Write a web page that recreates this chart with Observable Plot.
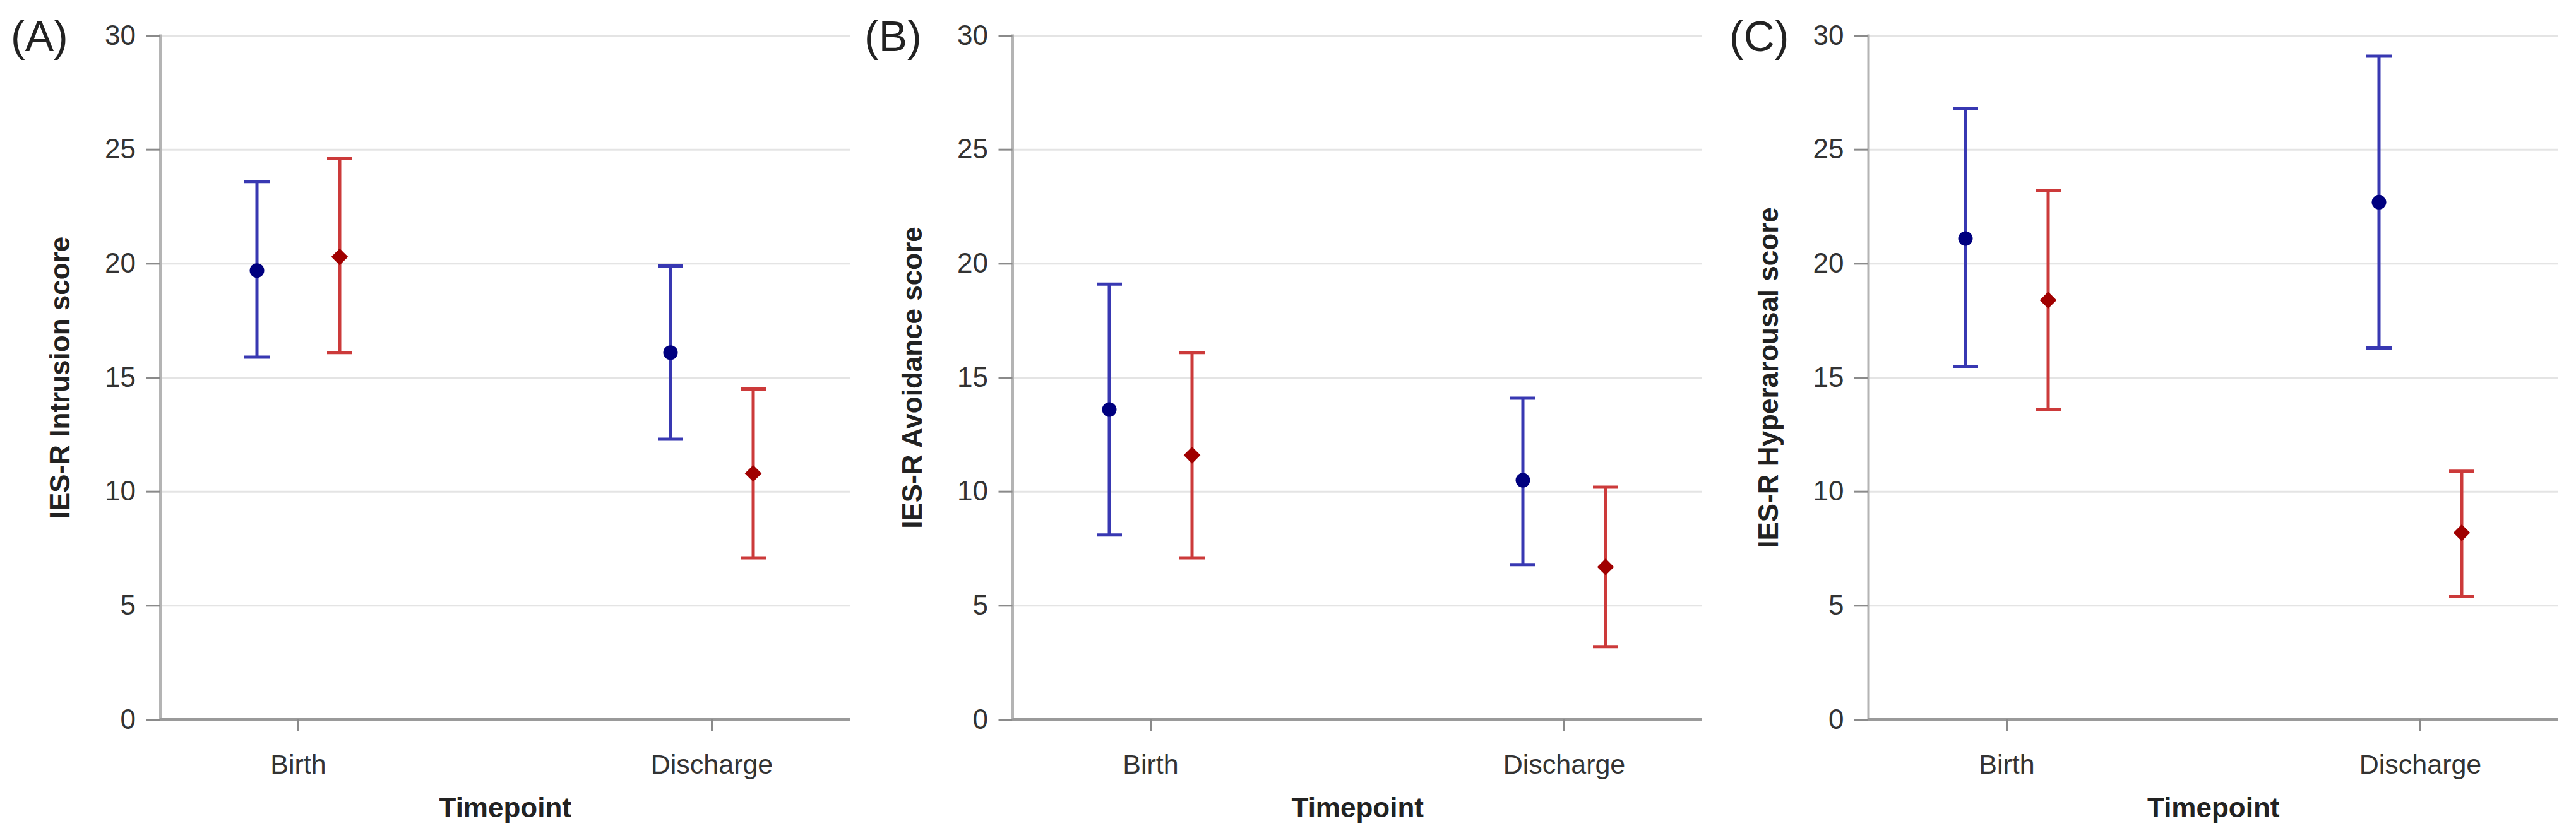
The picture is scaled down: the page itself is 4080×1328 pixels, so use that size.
<!DOCTYPE html>
<html>
<head>
<meta charset="utf-8">
<script src="https://cdn.jsdelivr.net/npm/d3@7"></script>
<script src="https://cdn.jsdelivr.net/npm/@observablehq/plot@0.6"></script>
<style>
  body { margin: 0; background: #fff; }
  #wrap { display: flex; width: 4080px; height: 1328px; }
  .panel { position: relative; width: 1360px; height: 1328px; }
  .tag { position: absolute; top: 23px; font-family: "Liberation Sans", Arial, sans-serif; font-size: 68px; line-height: 1; color: #222; }
</style>
</head>
<body>
<div id="wrap"></div>
<script>
// ---- data ----
const timepoints = ["Birth", "Discharge"];
const groups = ["blue", "red"];
const panelTags = ["(A)", "(B)", "(C)"];
const yLabels = ["IES-R Intrusion score", "IES-R Avoidance score", "IES-R Hyperarousal score"];
const xLabel = "Timepoint";
const yTicks = [0, 5, 10, 15, 20, 25, 30];

// values per timepoint [Birth, Discharge]
const intrusionBlueMean = [19.7, 16.1];
const intrusionBlueLow  = [15.9, 12.3];
const intrusionBlueHigh = [23.6, 19.9];
const intrusionRedMean  = [20.3, 10.8];
const intrusionRedLow   = [16.1, 7.1];
const intrusionRedHigh  = [24.6, 14.5];

const avoidanceBlueMean = [13.6, 10.5];
const avoidanceBlueLow  = [8.1, 6.8];
const avoidanceBlueHigh = [19.1, 14.1];
const avoidanceRedMean  = [11.6, 6.7];
const avoidanceRedLow   = [7.1, 3.2];
const avoidanceRedHigh  = [16.1, 10.2];

const hyperBlueMean = [21.1, 22.7];
const hyperBlueLow  = [15.5, 16.3];
const hyperBlueHigh = [26.8, 29.1];
const hyperRedMean  = [18.4, 8.2];
const hyperRedLow   = [13.6, 5.4];
const hyperRedHigh  = [23.2, 10.9];

function rows(mean, low, high, group) {
  return timepoints.map((t, i) => ({time: t, group, mean: mean[i], low: low[i], high: high[i]}));
}

const panels = [
  {blue: rows(intrusionBlueMean, intrusionBlueLow, intrusionBlueHigh, "blue"),
   red: rows(intrusionRedMean, intrusionRedLow, intrusionRedHigh, "red")},
  {blue: rows(avoidanceBlueMean, avoidanceBlueLow, avoidanceBlueHigh, "blue"),
   red: rows(avoidanceRedMean, avoidanceRedLow, avoidanceRedHigh, "red")},
  {blue: rows(hyperBlueMean, hyperBlueLow, hyperBlueHigh, "blue"),
   red: rows(hyperRedMean, hyperRedLow, hyperRedHigh, "red")}
];

// ---- layout / style ----
const marginLefts = [253.5, 243.5, 239];
const plotWidth = 1092.5;
const tagLefts = [17, 9, 19];
const font = '"Liberation Sans", Arial, sans-serif';
const barColor = {blue: "#3838b2", red: "#cc3a3a"};
const dotColor = {blue: "#00007f", red: "#a00000"};
const offset = 65.5;

const capSymbol = {
  draw(ctx, size) {
    const w = Math.sqrt(size / Math.PI);
    ctx.moveTo(-w, 0);
    ctx.lineTo(w, 0);
  }
};

function errorMarks(data, g, dx) {
  return [
    Plot.ruleX(data, {x: "time", y1: "low", y2: "high", dx, stroke: barColor[g], strokeWidth: 5}),
    Plot.dot(data, {x: "time", y: "low", dx, symbol: capSymbol, r: 20, fill: "none", stroke: barColor[g], strokeWidth: 5}),
    Plot.dot(data, {x: "time", y: "high", dx, symbol: capSymbol, r: 20, fill: "none", stroke: barColor[g], strokeWidth: 5})
  ];
}

const wrap = document.getElementById("wrap");

panels.forEach((p, i) => {
  const div = document.createElement("div");
  div.className = "panel";
  const tag = document.createElement("div");
  tag.className = "tag";
  tag.style.left = tagLefts[i] + "px";
  tag.textContent = panelTags[i];

  const ml = marginLefts[i];
  const chart = Plot.plot({
    width: 1360,
    height: 1328,
    marginLeft: ml,
    marginRight: 1360 - ml - plotWidth,
    marginTop: 56,
    marginBottom: 188,
    style: {fontFamily: font, fontSize: "44px", color: "#333", background: "white", overflow: "visible"},
    x: {type: "point", domain: timepoints, padding: 1 / 3, label: null},
    y: {domain: [0, 30], label: null},
    marks: [
      Plot.gridY({ticks: yTicks.filter(d => d > 0), stroke: "#e4e4e4", strokeOpacity: 1, strokeWidth: 3}),
      Plot.frame({anchor: "left", stroke: "#b4b4b4", strokeWidth: 4}),
      Plot.ruleY([0], {stroke: "#9a9a9a", strokeWidth: 5}),
      Plot.axisY({ticks: yTicks, tickSize: 22, tickPadding: 17, stroke: "#8a8a8a", strokeWidth: 3, fontSize: 44, fill: "#333", label: null}),
      Plot.axisX({tickSize: 18, tickPadding: 37, stroke: "#8a8a8a", strokeWidth: 3, fontSize: 43, fill: "#333", label: null}),
      Plot.text([yLabels[i]], {frameAnchor: "left", rotate: -90, dx: -158, fontSize: 44, fontWeight: "bold", fill: "#222", textAnchor: "middle", lineAnchor: "middle"}),
      Plot.text([xLabel], {frameAnchor: "bottom", dy: 140, fontSize: 44, fontWeight: "bold", fill: "#222", textAnchor: "middle", lineAnchor: "middle"}),
      ...errorMarks(p.blue, "blue", -offset),
      ...errorMarks(p.red, "red", offset),
      Plot.dot(p.blue, {x: "time", y: "mean", dx: -offset, r: 11.5, symbol: "circle", fill: dotColor.blue, stroke: "none"}),
      Plot.dot(p.red, {x: "time", y: "mean", dx: offset, r: 12, symbol: "diamond2", fill: dotColor.red, stroke: "none"})
    ]
  });
  div.appendChild(chart);
  div.appendChild(tag);
  wrap.appendChild(div);
});
</script>
</body>
</html>
